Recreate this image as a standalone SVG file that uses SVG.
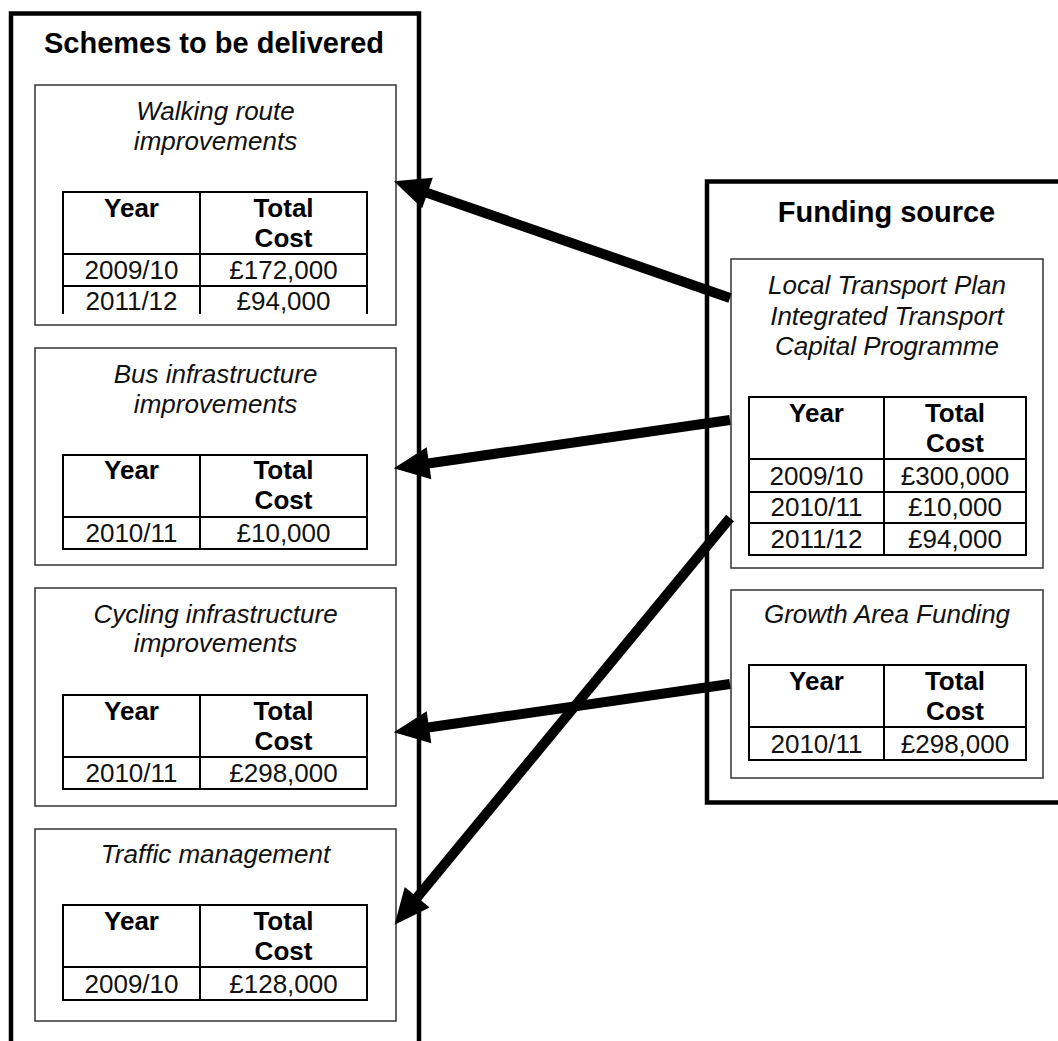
<svg xmlns="http://www.w3.org/2000/svg" width="1058" height="1041" viewBox="0 0 1058 1041">
<defs>
<style>
.outer{fill:none;stroke:#000;stroke-width:4.5}
.box{fill:#fff;stroke:#333;stroke-width:1.5}
.tbl{fill:none;stroke:#000;stroke-width:2}
.h{font-family:"Liberation Sans",Arial,sans-serif;font-weight:bold;font-size:29px;text-anchor:middle;fill:#000}
.t{font-family:"Liberation Sans",Arial,sans-serif;font-style:italic;font-size:26px;text-anchor:middle;fill:#111}
.th{font-family:"Liberation Sans",Arial,sans-serif;font-weight:bold;font-size:26px;text-anchor:middle;fill:#000}
.td{font-family:"Liberation Sans",Arial,sans-serif;font-size:26px;text-anchor:middle;fill:#111}
.arrow{fill:none;stroke:#000;stroke-width:10;marker-end:url(#ah)}
</style>
<marker id="ah" markerUnits="userSpaceOnUse" markerWidth="40" markerHeight="40" viewBox="-14 -16 36 32" refX="0" refY="0" orient="auto">
<path d="M20,0 L-12,-14.5 L-12,14.5 Z" fill="#000"/>
</marker>
</defs>
<rect width="1058" height="1041" fill="#fff"/>

<g id="schemes">
<path class="outer" d="M11,1045 V13.5 H419 V1045"/>
<text class="h" x="214" y="53">Schemes to be delivered</text>
</g>

<g id="walking">
<rect class="box" x="35" y="85" width="361" height="240"/>
<text class="t" x="215.5" y="120">Walking route</text>
<text class="t" x="215.5" y="150">improvements</text>
<path class="tbl" d="M63,314 V192 H367 V314 M200,192 V314 M63,254 H367 M63,286 H367"/>
<text class="th" x="131.5" y="217">Year</text>
<text class="th" x="283.5" y="217">Total</text>
<text class="th" x="283.5" y="247">Cost</text>
<text class="td" x="131.5" y="279">2009/10</text>
<text class="td" x="283.5" y="279">£172,000</text>
<text class="td" x="131.5" y="310">2011/12</text>
<text class="td" x="283.5" y="310">£94,000</text>
</g>

<g id="bus">
<rect class="box" x="35" y="348" width="361" height="217"/>
<text class="t" x="215.5" y="383">Bus infrastructure</text>
<text class="t" x="215.5" y="413">improvements</text>
<rect class="tbl" x="63" y="455" width="304" height="94"/>
<path class="tbl" d="M200,455 V549 M63,517 H367"/>
<text class="th" x="131.5" y="479">Year</text>
<text class="th" x="283.5" y="479">Total</text>
<text class="th" x="283.5" y="509">Cost</text>
<text class="td" x="131.5" y="542">2010/11</text>
<text class="td" x="283.5" y="542">£10,000</text>
</g>

<g id="cycling">
<rect class="box" x="35" y="588" width="361" height="218"/>
<text class="t" x="215.5" y="623">Cycling infrastructure</text>
<text class="t" x="215.5" y="652">improvements</text>
<rect class="tbl" x="63" y="695" width="304" height="94"/>
<path class="tbl" d="M200,695 V789 M63,757 H367"/>
<text class="th" x="131.5" y="720">Year</text>
<text class="th" x="283.5" y="720">Total</text>
<text class="th" x="283.5" y="750">Cost</text>
<text class="td" x="131.5" y="782">2010/11</text>
<text class="td" x="283.5" y="782">£298,000</text>
</g>

<g id="traffic">
<rect class="box" x="35" y="829" width="361" height="192"/>
<text class="t" x="215.5" y="863">Traffic management</text>
<rect class="tbl" x="63" y="905" width="304" height="95"/>
<path class="tbl" d="M200,905 V1000 M63,967 H367"/>
<text class="th" x="131.5" y="930">Year</text>
<text class="th" x="283.5" y="930">Total</text>
<text class="th" x="283.5" y="960">Cost</text>
<text class="td" x="131.5" y="993">2009/10</text>
<text class="td" x="283.5" y="993">£128,000</text>
</g>

<g id="funding">
<path class="outer" d="M1065,181.5 H707 V802.5 H1065"/>
<text class="h" x="886.5" y="222">Funding source</text>
</g>

<g id="ltp">
<rect class="box" x="731" y="259" width="312" height="309"/>
<text class="t" x="887" y="294">Local Transport Plan</text>
<text class="t" x="887" y="324.5">Integrated Transport</text>
<text class="t" x="887" y="355">Capital Programme</text>
<rect class="tbl" x="749" y="397" width="277" height="158"/>
<path class="tbl" d="M884,397 V555 M749,459 H1026 M749,492 H1026 M749,523 H1026"/>
<text class="th" x="816.5" y="422">Year</text>
<text class="th" x="955" y="422">Total</text>
<text class="th" x="955" y="452">Cost</text>
<text class="td" x="816.5" y="485">2009/10</text>
<text class="td" x="955" y="485">£300,000</text>
<text class="td" x="816.5" y="516">2010/11</text>
<text class="td" x="955" y="516">£10,000</text>
<text class="td" x="816.5" y="548">2011/12</text>
<text class="td" x="955" y="548">£94,000</text>
</g>

<g id="growth">
<rect class="box" x="731" y="590" width="312" height="188"/>
<text class="t" x="887" y="623">Growth Area Funding</text>
<rect class="tbl" x="749" y="665" width="277" height="95"/>
<path class="tbl" d="M884,665 V760 M749,727 H1026"/>
<text class="th" x="816.5" y="690">Year</text>
<text class="th" x="955" y="690">Total</text>
<text class="th" x="955" y="720">Cost</text>
<text class="td" x="816.5" y="753">2010/11</text>
<text class="td" x="955" y="753">£298,000</text>
</g>

<g id="connectors">
<path class="arrow" d="M730,298 L414.9,188.6"/>
<path class="arrow" d="M730,420 L415.8,465.2"/>
<path class="arrow" d="M730,684 L415.8,729.2"/>
<path class="arrow" d="M730,518 L408.7,907.6"/>
</g>
</svg>
